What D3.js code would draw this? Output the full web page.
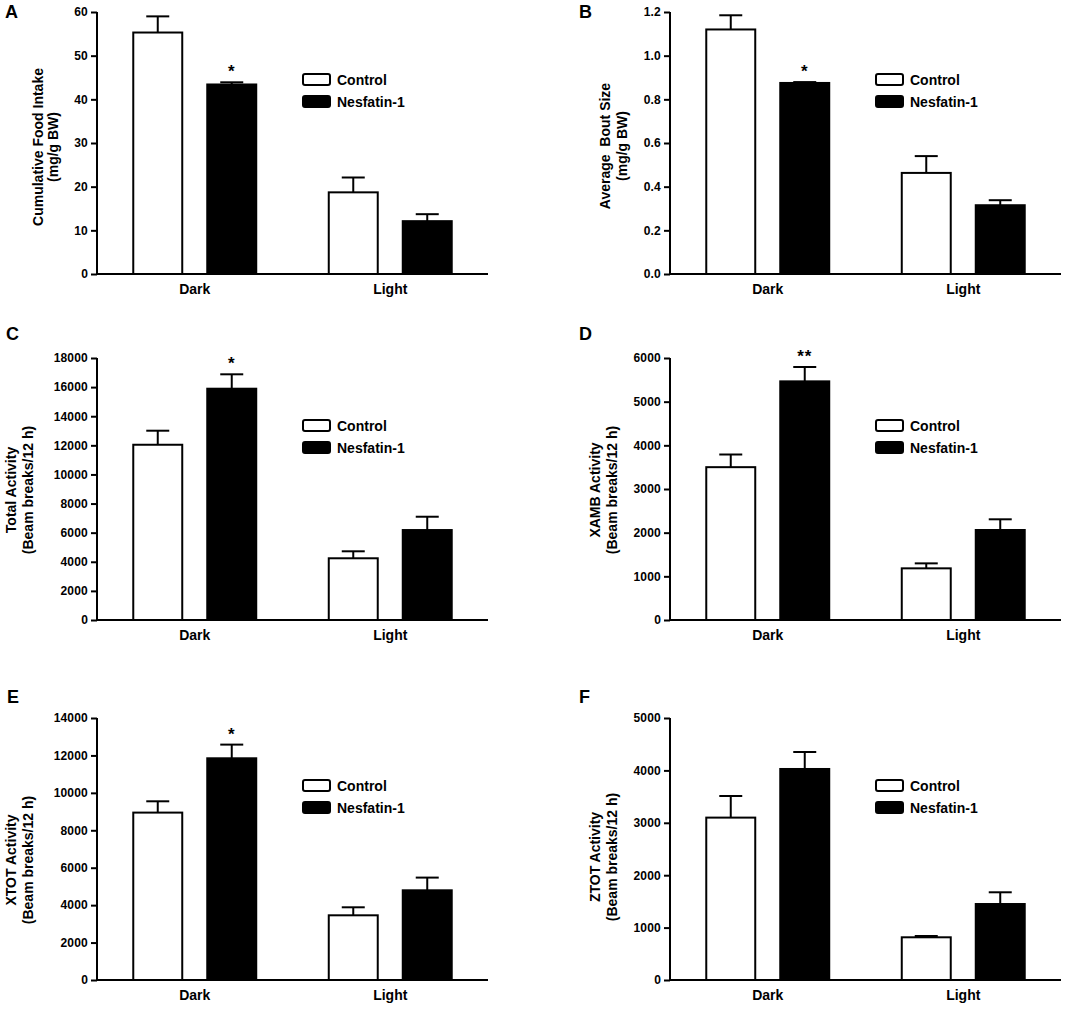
<!DOCTYPE html>
<html>
<head>
<meta charset="utf-8">
<script src="https://cdn.jsdelivr.net/npm/d3@7"></script>
<style>
  body { margin: 0; background: #fff; }
  text { font-family: "Liberation Sans", Arial, sans-serif; font-weight: bold; fill: #000; }
</style>
</head>
<body>
<svg id="fig" width="1091" height="1009"></svg>
<script>
  'use strict';

  // categories and series
  var groups = ['Dark', 'Light'],
      series = ['Control', 'Nesfatin-1'];

  // A -- cumulative food intake (mg/g BW)
  var foodControl = [55.3, 18.7],
      foodControlSem = [3.7, 3.4],
      foodNesfatin = [43.4, 12.1],
      foodNesfatinSem = [0.5, 1.6],
      foodSig = ['*', ''];

  // B -- average bout size (mg/g BW)
  var boutControl = [1.12, 0.463],
      boutControlSem = [0.065, 0.077],
      boutNesfatin = [0.875, 0.315],
      boutNesfatinSem = [0.004, 0.023],
      boutSig = ['*', ''];

  // C -- total activity
  var totalControl = [12040, 4240],
      totalControlSem = [965, 480],
      totalNesfatin = [15890, 6180],
      totalNesfatinSem = [990, 915],
      totalSig = ['*', ''];

  // D -- XAMB activity
  var xambControl = [3500, 1183],
      xambControlSem = [290, 114],
      xambNesfatin = [5465, 2061],
      xambNesfatinSem = [329, 245],
      xambSig = ['**', ''];

  // E -- XTOT activity
  var xtotControl = [8945, 3457],
      xtotControlSem = [604, 428],
      xtotNesfatin = [11847, 4793],
      xtotNesfatinSem = [731, 679],
      xtotSig = ['*', ''];

  // F -- ZTOT activity
  var ztotControl = [3099, 815],
      ztotControlSem = [412, 25],
      ztotNesfatin = [4027, 1450],
      ztotNesfatinSem = [324, 224],
      ztotSig = ['', ''];

  // y axis ticks
  var foodTicks = [0, 10, 20, 30, 40, 50, 60],
      boutTicks = [0, 0.2, 0.4, 0.6, 0.8, 1.0, 1.2],
      totalTicks = [0, 2000, 4000, 6000, 8000, 10000, 12000, 14000, 16000, 18000],
      xambTicks = [0, 1000, 2000, 3000, 4000, 5000, 6000],
      xtotTicks = [0, 2000, 4000, 6000, 8000, 10000, 12000, 14000],
      ztotTicks = [0, 1000, 2000, 3000, 4000, 5000];

  var svg = d3.select('#fig');
  svg.append('rect').attr('width', 1091).attr('height', 1009).attr('fill', '#fff');

  var panels = [
    { letter: 'A', x0: 97, top: 12, lx: 5, ly: 18, title: ['Cumulative Food Intake', '(mg/g BW)'], tdx: [-59, -44], tcy: 135,
      ctl: foodControl, ctlSem: foodControlSem, nes: foodNesfatin, nesSem: foodNesfatinSem, sig: foodSig,
      ticks: foodTicks, fmt: d3.format('d') },
    { letter: 'B', x0: 670, top: 12, lx: 579, ly: 18, title: ['Average  Bout Size', '(mg/g BW)'], tdx: [-65, -48], tcy: 134,
      ctl: boutControl, ctlSem: boutControlSem, nes: boutNesfatin, nesSem: boutNesfatinSem, sig: boutSig,
      ticks: boutTicks, fmt: d3.format('.1f') },
    { letter: 'C', x0: 97, top: 358, lx: 6, ly: 340, title: ['Total Activity', '(Beam breaks/12 h)'], tdx: [-86, -69], tcy: 132,
      ctl: totalControl, ctlSem: totalControlSem, nes: totalNesfatin, nesSem: totalNesfatinSem, sig: totalSig,
      ticks: totalTicks, fmt: d3.format('d') },
    { letter: 'D', x0: 670, top: 358, lx: 579, ly: 340, title: ['XAMB Activity', '(Beam breaks/12 h)'], tdx: [-75, -58], tcy: 132,
      ctl: xambControl, ctlSem: xambControlSem, nes: xambNesfatin, nesSem: xambNesfatinSem, sig: xambSig,
      ticks: xambTicks, fmt: d3.format('d') },
    { letter: 'E', x0: 97, top: 718, lx: 7, ly: 703, title: ['XTOT Activity', '(Beam breaks/12 h)'], tdx: [-86, -69], tcy: 142,
      ctl: xtotControl, ctlSem: xtotControlSem, nes: xtotNesfatin, nesSem: xtotNesfatinSem, sig: xtotSig,
      ticks: xtotTicks, fmt: d3.format('d') },
    { letter: 'F', x0: 670, top: 718, lx: 579, ly: 703, title: ['ZTOT Activity', '(Beam breaks/12 h)'], tdx: [-75, -58], tcy: 139,
      ctl: ztotControl, ctlSem: ztotControlSem, nes: ztotNesfatin, nesSem: ztotNesfatinSem, sig: ztotSig,
      ticks: ztotTicks, fmt: d3.format('d') }
  ];

  var plotW = 391,
      plotH = 262,
      fills = ['#fff', '#000'];

  function drawPanel(p) {
    var g = svg.append('g').attr('transform', 'translate(' + p.x0 + ',' + p.top + ')');

    var x = d3.scaleBand().domain(groups).range([0, plotW]).paddingInner(0.371).paddingOuter(0.1855);
    var xs = d3.scaleBand().domain(series).range([0, x.bandwidth()]).paddingInner(0.338);
    var y = d3.scaleLinear().domain([0, p.ticks[p.ticks.length - 1]]).range([plotH, 0]);

    var rows = groups.map(function (grp, i) {
      return [
        { grp: grp, s: series[0], v: p.ctl[i], e: p.ctlSem[i], sig: '' },
        { grp: grp, s: series[1], v: p.nes[i], e: p.nesSem[i], sig: p.sig[i] }
      ];
    });
    var bars = d3.merge(rows);

    // error bars (upper only)
    var eb = g.append('g').attr('stroke', '#000').attr('stroke-width', 2);
    bars.forEach(function (d) {
      var cx = x(d.grp) + xs(d.s) + xs.bandwidth() / 2;
      eb.append('line').attr('x1', cx).attr('x2', cx).attr('y1', y(d.v)).attr('y2', y(d.v + d.e));
      eb.append('line').attr('x1', cx - 11.5).attr('x2', cx + 11.5).attr('y1', y(d.v + d.e)).attr('y2', y(d.v + d.e));
    });

    g.append('g').selectAll('rect').data(bars).join('rect')
      .attr('x', function (d) { return x(d.grp) + xs(d.s); })
      .attr('y', function (d) { return y(d.v); })
      .attr('width', xs.bandwidth())
      .attr('height', function (d) { return plotH - y(d.v); })
      .attr('fill', function (d) { return fills[series.indexOf(d.s)]; })
      .attr('stroke', '#000')
      .attr('stroke-width', 2);

    // significance stars
    g.append('g').selectAll('text').data(bars.filter(function (d) { return d.sig; })).join('text')
      .attr('x', function (d) { return x(d.grp) + xs(d.s) + xs.bandwidth() / 2; })
      .attr('y', function (d) { return y(d.v + d.e) - 5; })
      .attr('text-anchor', 'middle')
      .style('font-size', '17px')
      .style('letter-spacing', '1px')
      .text(function (d) { return d.sig; });

    // y axis
    var yAxis = d3.axisLeft(y).tickValues(p.ticks).tickFormat(p.fmt).tickSize(6).tickPadding(3);
    var ya = g.append('g').call(yAxis);
    ya.select('.domain').attr('stroke-width', 2).attr('d', 'M0,' + (plotH + 1) + 'V0');
    ya.selectAll('.tick line').attr('stroke-width', 2);
    ya.selectAll('.tick text')
      .style('font-family', '"Liberation Sans", Arial, sans-serif')
      .style('font-weight', 'bold')
      .style('font-size', '12px')
      .style('letter-spacing', '0.2px');

    // x axis
    g.append('line')
      .attr('x1', -1).attr('x2', plotW)
      .attr('y1', plotH).attr('y2', plotH)
      .attr('stroke', '#000').attr('stroke-width', 2);
    g.append('g').selectAll('text').data(groups).join('text')
      .attr('x', function (d) { return x(d) + x.bandwidth() / 2; })
      .attr('y', plotH + 20)
      .attr('text-anchor', 'middle')
      .style('font-size', '14px')
      .text(function (d) { return d; });

    // y title
    p.title.forEach(function (t, i) {
      g.append('text')
        .attr('transform', 'translate(' + (p.tdx[i] + 5) + ',' + p.tcy + ') rotate(-90)')
        .attr('text-anchor', 'middle')
        .style('font-size', '14px')
        .style('white-space', 'pre')
        .text(t);
    });

    // legend
    var lg = g.append('g').attr('transform', 'translate(206,62)');
    series.forEach(function (s, i) {
      lg.append('rect')
        .attr('x', 0).attr('y', i * 22)
        .attr('width', 27).attr('height', 11)
        .attr('rx', 2)
        .attr('fill', fills[i]).attr('stroke', '#000').attr('stroke-width', 2);
      lg.append('text')
        .attr('x', 34).attr('y', i * 22 + 11)
        .style('font-size', '14px')
        .text(s);
    });

    // panel letter
    svg.append('text')
      .attr('x', p.lx).attr('y', p.ly)
      .style('font-size', '18px')
      .text(p.letter);
  }

  panels.forEach(drawPanel);
</script>
</body>
</html>
